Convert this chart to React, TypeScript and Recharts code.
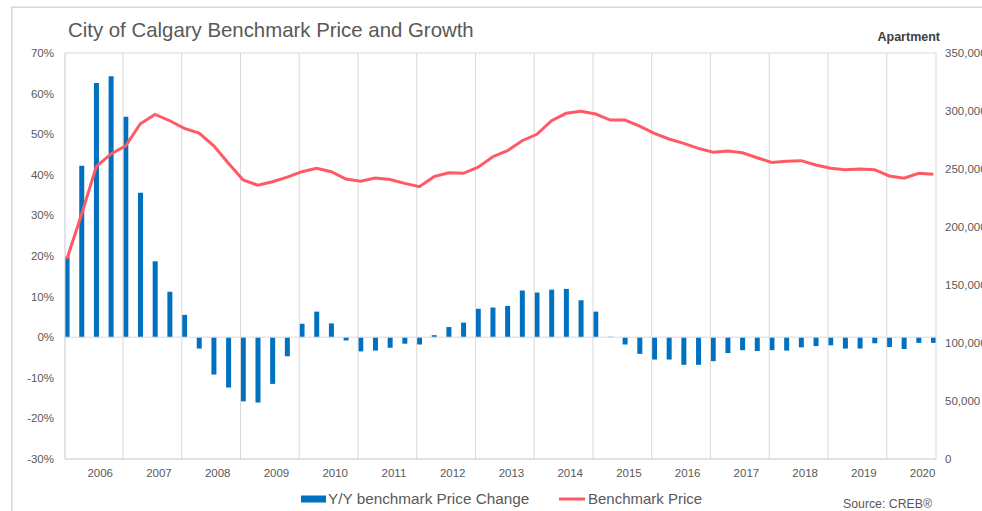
import React from "react";
import {
  Bar,
  ComposedChart,
  Line,
  ReferenceLine,
  XAxis,
  YAxis,
} from "recharts";

// quarterly series, 2006 Q1 .. 2020 Q4
const quarters = Array.from({ length: 60 }, (_, i) => `${2006 + Math.floor(i / 4)} Q${(i % 4) + 1}`);

const yoyChange = [
  19.8, 42.2, 62.6, 64.3, 54.3, 35.6, 18.7, 11.2, 5.5, -2.8,
  -9.2, -12.4, -15.8, -16.1, -11.5, -4.7, 3.3, 6.3, 3.4, -0.8,
  -3.5, -3.3, -2.6, -1.6, -1.8, 0.5, 2.5, 3.6, 7.0, 7.3,
  7.7, 11.5, 11.0, 11.7, 11.9, 9.1, 6.3, 0.1, -1.8, -4.1,
  -5.5, -5.5, -6.8, -6.8, -5.9, -3.9, -3.2, -3.4, -3.2, -3.3,
  -2.5, -2.2, -2.0, -2.8, -2.8, -1.5, -2.4, -2.9, -1.4, -1.4,
];

const benchmarkPrice = [
  172400, 211000, 252000, 263000, 270000, 289000, 297000, 291600, 285000, 281000,
  270000, 255000, 240500, 236000, 239000, 243000, 247700, 250600, 247700, 241400,
  239400, 242200, 241000, 237600, 234800, 243400, 246800, 246300, 251500, 260600,
  265800, 274400, 279900, 291600, 298000, 299700, 297400, 292200, 292200, 287000,
  280700, 275900, 272100, 267800, 264400, 265500, 264000, 259700, 255700, 256600,
  257200, 253400, 250600, 249400, 250000, 249400, 244000, 242000, 246300, 245400,
];

const years = [2006, 2007, 2008, 2009, 2010, 2011, 2012, 2013, 2014, 2015, 2016, 2017, 2018, 2019, 2020];
const pctTicks = [-30, -20, -10, 0, 10, 20, 30, 40, 50, 60, 70];
const priceTicks = [0, 50000, 100000, 150000, 200000, 250000, 300000, 350000];

const data = quarters.map((q, i) => ({
  i,
  quarter: q,
  yoy: yoyChange[i],
  price: benchmarkPrice[i],
}));

// year boundaries sit just left of each Q1 bar, labels a bit right of the year's middle
const yearStarts = years.slice(1).map((_, k) => (k + 1) * 4 - 0.18);
const yearTicks = years.map((_, k) => k * 4 + 2.27);

const FONT = '"Liberation Sans", Arial, sans-serif';
const TEXT = "#595959";
const GRID = "#d9d9d9";
const AXIS = "#c6c6c6";
const BLUE = "#0070C0";
const RED = "#FF5A64";

export default function App() {
  return (
    <div style={{ position: "absolute", left: 0, top: 0, width: 982, height: 511, background: "#fff", fontFamily: FONT }}>
      <ComposedChart
        width={982}
        height={511}
        data={data}
        margin={{ top: 53, right: 0, bottom: 22, left: 0 }}
      >
        {yearStarts.map((x) => (
          <ReferenceLine key={x} x={x} yAxisId="left" stroke={GRID} strokeWidth={1} />
        ))}
        <ReferenceLine y={0} yAxisId="left" stroke={GRID} strokeWidth={1} />
        <ReferenceLine y={70} yAxisId="left" stroke={GRID} strokeWidth={1} />
        <XAxis
          dataKey="i"
          type="number"
          scale="linear"
          domain={[-0.13, 59.18]}
          allowDataOverflow
          ticks={yearTicks}
          interval={0}
          tickFormatter={(v) => String(years[Math.round((v - 2.27) / 4)])}
          tickLine={false}
          tickMargin={4}
          height={30}
          stroke={AXIS}
          tick={{ fill: TEXT, fontSize: 11.5, fontFamily: FONT }}
        />
        <YAxis
          yAxisId="left"
          orientation="left"
          width={65}
          domain={[-30, 70]}
          ticks={pctTicks}
          interval={0}
          tickFormatter={(v) => `${v}%`}
          tickLine={false}
          tickMargin={5}
          stroke={AXIS}
          tick={{ fill: TEXT, fontSize: 11.5, fontFamily: FONT }}
        />
        <YAxis
          yAxisId="right"
          orientation="right"
          width={46}
          domain={[0, 350000]}
          ticks={priceTicks}
          interval={0}
          tickFormatter={(v) => Number(v).toLocaleString("en-US")}
          tickLine={false}
          tickMargin={3}
          stroke={GRID}
          tick={{ fill: TEXT, fontSize: 11.5, fontFamily: FONT, textAnchor: "start" }}
        />
        <Bar yAxisId="left" dataKey="yoy" fill={BLUE} barSize={5} isAnimationActive={false} />
        <Line
          yAxisId="right"
          dataKey="price"
          type="linear"
          stroke={RED}
          strokeWidth={3}
          dot={false}
          activeDot={false}
          isAnimationActive={false}
        />
      </ComposedChart>

      <svg
        width={982}
        height={511}
        style={{ position: "absolute", left: 0, top: 0, pointerEvents: "none" }}
        fontFamily={FONT}
      >
        <rect x={11.75} y={7.25} width={1000} height={520} fill="none" stroke="#d6d6d6" strokeWidth={1.5} />
        <text x={68} y={37} fontSize={20.4} fill={TEXT}>
          City of Calgary Benchmark Price and Growth
        </text>
        <text x={940} y={41} fontSize={12.5} fontWeight="bold" fill="#404040" textAnchor="end">
          Apartment
        </text>
        <rect x={301} y={495.5} width={25} height={7} fill={BLUE} />
        <text x={328} y={504.3} fontSize={15.3} fill={TEXT}>
          Y/Y benchmark Price Change
        </text>
        <line x1={559} y1={499} x2={585} y2={499} stroke={RED} strokeWidth={3} />
        <text x={588} y={504.3} fontSize={15} fill={TEXT}>
          Benchmark Price
        </text>
        <text x={843} y={508} fontSize={12.3} fill={TEXT}>
          Source: CREB®
        </text>
      </svg>
    </div>
  );
}
